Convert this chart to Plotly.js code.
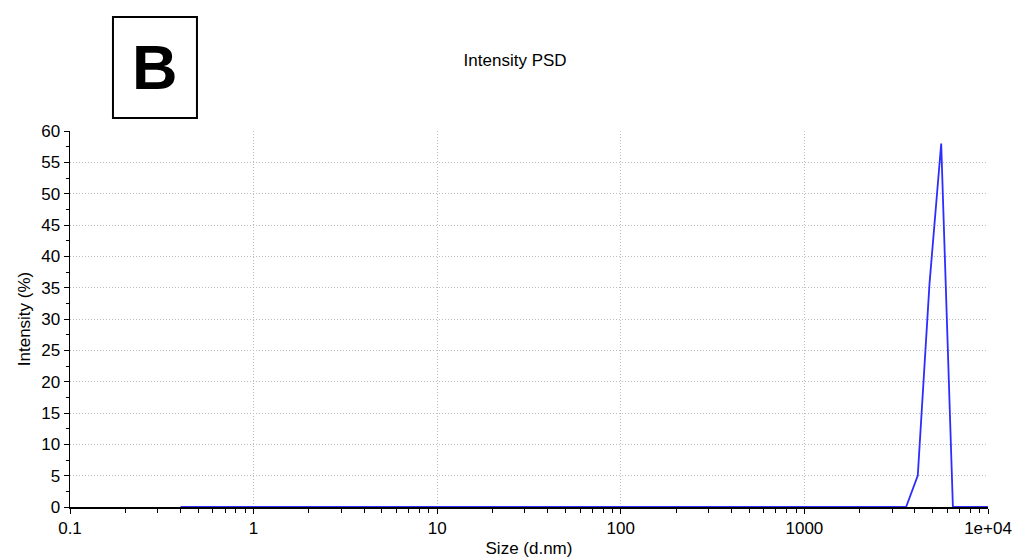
<!DOCTYPE html>
<html>
<head>
<meta charset="utf-8">
<script src="https://cdn.plot.ly/plotly-3.0.1.min.js"></script>
<style>html,body{margin:0;padding:0;background:#fff;}#chart{width:1016px;height:560px;}</style>
</head>
<body>
<div id="chart"></div>
<script>
// Size classes (d.nm)
const sizes = [0.4, 0.4632, 0.5365, 0.6213, 0.7195, 0.8332, 0.9649, 1.117, 1.294, 1.499,
  1.736, 2.01, 2.328, 2.696, 3.122, 3.615, 4.187, 4.849, 5.615, 6.503,
  7.531, 8.721, 10.1, 11.7, 13.54, 15.69, 18.17, 21.04, 24.36, 28.21,
  32.67, 37.84, 43.82, 50.75, 58.77, 68.06, 78.82, 91.28, 105.7, 122.4,
  141.8, 164.2, 190.1, 220.2, 255.0, 295.3, 342.0, 396.1, 458.7, 531.2,
  615.1, 712.4, 825.0, 955.4, 1106, 1281, 1484, 1718, 1990, 2305,
  2669, 3091, 3580, 4145, 4801, 5560, 6439, 7456, 8635, 10000];
// Intensity (%)
const intensity = [0, 0, 0, 0, 0, 0, 0, 0, 0, 0,
  0, 0, 0, 0, 0, 0, 0, 0, 0, 0,
  0, 0, 0, 0, 0, 0, 0, 0, 0, 0,
  0, 0, 0, 0, 0, 0, 0, 0, 0, 0,
  0, 0, 0, 0, 0, 0, 0, 0, 0, 0,
  0, 0, 0, 0, 0, 0, 0, 0, 0, 0,
  0, 0, 0, 5.0, 35.6, 58.0, 0, 0, 0, 0];
const xTickVals = [0.1, 1, 10, 100, 1000, 10000];
const xTickText = ["0.1", "1", "10", "100", "1000", "1e+04"];

const FONT = "Liberation Sans, Arial, sans-serif";

const trace = {
  x: sizes, y: intensity, type: "scatter", mode: "lines",
  line: {color: "rgb(45,45,255)", width: 1.8},
  hoverinfo: "x+y", showlegend: false
};

const layout = {
  width: 1016, height: 560,
  margin: {l: 70, r: 28, t: 131, b: 53},
  paper_bgcolor: "#fff", plot_bgcolor: "#fff",
  font: {family: FONT, size: 17, color: "#000"},
  title: {text: "Intensity PSD", font: {family: FONT, size: 17, color: "#000"},
    x: 0.507, xref: "container", xanchor: "center", y: 0.893, yref: "container", yanchor: "middle"},
  xaxis: {
    type: "log", range: [-1, 4],
    tickmode: "array", tickvals: xTickVals, ticktext: xTickText,
    ticks: "outside", ticklen: 5, tickcolor: "#000", tickwidth: 1,
    minor: {ticks: "outside", ticklen: 4, tickcolor: "#000", dtick: "D1", showgrid: false},
    showline: true, linecolor: "#000", linewidth: 1.5,
    showgrid: true, gridcolor: "#bdbdbd", griddash: "1px,2px", gridwidth: 1,
    zeroline: false,
    tickfont: {family: FONT, size: 17, color: "#000"},
    title: {text: "Size (d.nm)", font: {family: FONT, size: 17, color: "#000"}, standoff: 5}
  },
  yaxis: {
    range: [0, 60], dtick: 5, tick0: 0,
    ticks: "outside", ticklen: 5, tickcolor: "#000", tickwidth: 1,
    minor: {ticks: "outside", ticklen: 3, tickcolor: "#000", dtick: 2.5, showgrid: false},
    showline: true, linecolor: "#000", linewidth: 1.5,
    showgrid: true, gridcolor: "#bdbdbd", griddash: "1px,2px", gridwidth: 1,
    zeroline: false,
    tickfont: {family: FONT, size: 17, color: "#000"},
    title: {text: "Intensity (%)", font: {family: FONT, size: 17, color: "#000"}, standoff: 6}
  },
  shapes: [
    {type: "rect", xref: "paper", yref: "paper", x0: 0.0468, x1: 0.1383, y0: 1.0346, y1: 1.3032,
      line: {color: "#000", width: 2}, fillcolor: "rgba(0,0,0,0)"}
  ],
  annotations: [
    {text: "<b>B</b>", xref: "paper", yref: "paper", x: 0.0926, y: 1.170,
      xanchor: "center", yanchor: "middle", showarrow: false,
      font: {family: FONT, size: 63, color: "#000"}}
  ]
};

Plotly.newPlot("chart", [trace], layout, {displayModeBar: false, staticPlot: true});
</script>
</body>
</html>
